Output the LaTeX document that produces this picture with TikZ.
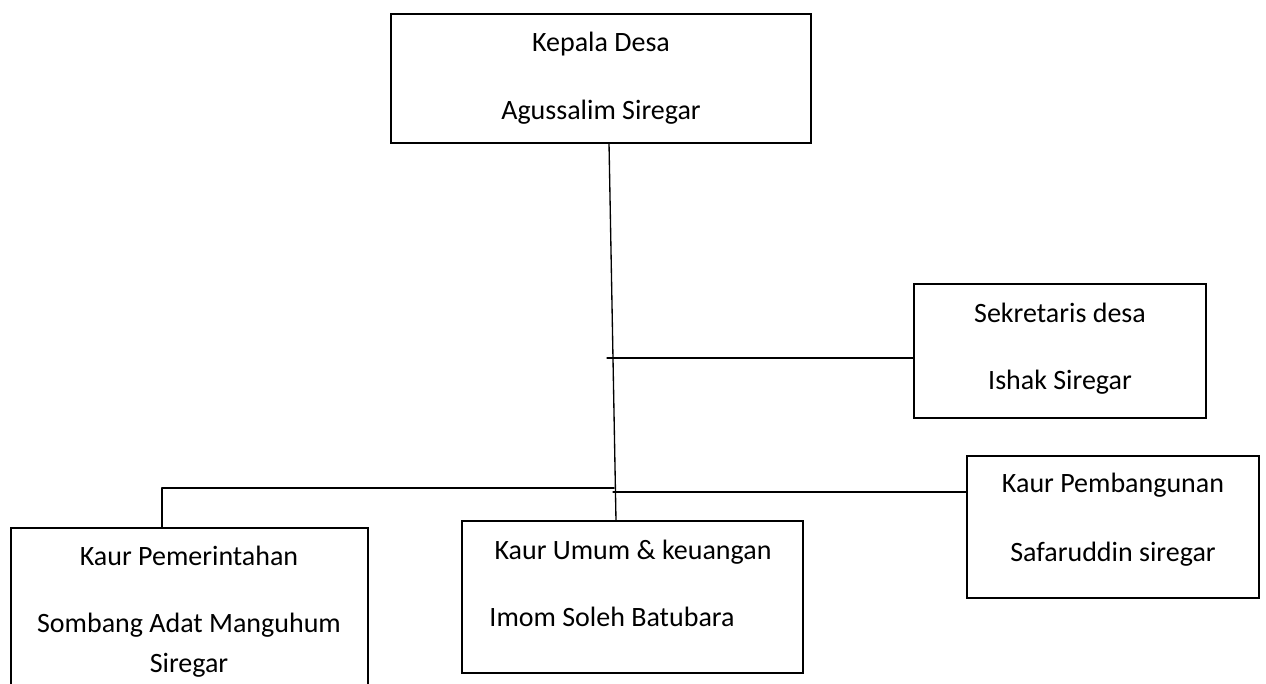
\documentclass[tikz,border=0pt]{standalone}
\usepackage{fontspec}
\setmainfont{Carlito}
\begin{document}
\begin{tikzpicture}[line cap=round,line join=round,x=0.75pt,y=-0.75pt]
\tikzset{
  kotak/.style 2 args={draw,line width=2.2pt,line join=miter,inner sep=0pt,outer sep=0pt,
    minimum width=#1*0.75pt,minimum height=#2*0.75pt},
  teks/.style={anchor=base,inner sep=0pt,font=\fontsize{21}{25}\selectfont},
  garis/.style={line width=1pt}
}
\useasboundingbox (0,0) rectangle (1266,684);
\clip (0,0) rectangle (1266,684);
% kotak jabatan
\node[kotak={420}{129}] (kepala) at (601,78.5) {};
\node[kotak={292}{134}] (sekdes) at (1060,351) {};
\node[kotak={292}{142}] (pemb) at (1113,527) {};
\node[kotak={341}{152}] (umum) at (632.5,597) {};
\node[kotak={357}{192}] (pem) at (189.5,624) {};
% nama dan jabatan
\node[teks] (kepalaA) at (601,52) {Kepala Desa};
\node[teks] (kepalaB) at (601,120) {Agussalim Siregar};
\node[teks] (sekdesA) at (1060,322) {Sekretaris desa};
\node[teks] (sekdesB) at (1060,389) {Ishak Siregar};
\node[teks] (pembA) at (1113,492) {Kaur Pembangunan};
\node[teks] (pembB) at (1113,561) {Safaruddin siregar};
\node[teks] (umumA) at (633,559) {Kaur Umum \& keuangan};
\node[teks] (umumB) at (612,626) {Imom Soleh Batubara};
\node[teks] (pemA) at (189,565) {Kaur Pemerintahan};
\node[teks] (pemB) at (189,632) {Sombang Adat Manguhum};
\node[teks] (pemC) at (189,672) {Siregar};
% garis
\coordinate (atas) at (609,143);
\coordinate (bawah) at (616,521);
\coordinate (cabangS) at (607,358);
\coordinate (masukS) at (914,358);
\coordinate (cabangK) at (614,488);
\coordinate (sudutK) at (162,488);
\coordinate (masukK) at (162,528);
\coordinate (cabangP) at (613,492);
\coordinate (masukP) at (967,492);
\draw[garis] (atas) -- (bawah);
\draw[garis] (cabangS) -- (masukS);
\draw[garis] (cabangK) -- (sudutK) -- (masukK);
\draw[garis] (cabangP) -- (masukP);
\end{tikzpicture}
\end{document}
